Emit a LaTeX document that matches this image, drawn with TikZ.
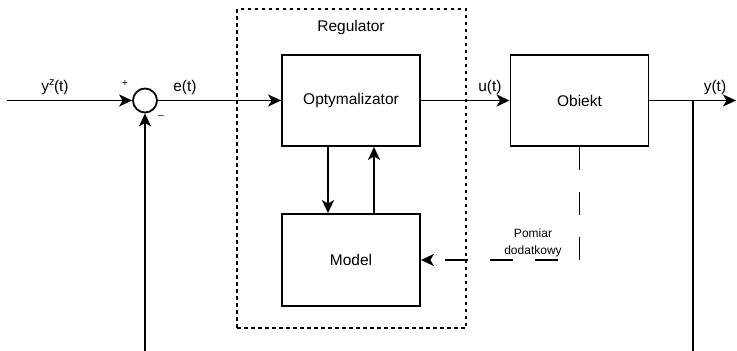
\documentclass[tikz,border=0pt]{standalone}
\usepackage{fontspec}
\setmainfont{Liberation Sans}
\usetikzlibrary{arrows.meta, calc}

\begin{document}
\begin{tikzpicture}[x=1pt, y=-1pt,
  block/.style={draw, line width=1.8pt, minimum width=138pt, minimum height=91pt,
                inner sep=0pt, font=\fontsize{15.5}{17}\selectfont},
  sumnode/.style={draw, circle, line width=1.8pt, minimum size=24pt, inner sep=0pt},
  regbox/.style={draw, line width=1.7pt, dash pattern=on 3.5pt off 3.5pt,
                 minimum width=229pt, minimum height=319pt, inner sep=0pt},
  lbl/.style={font=\fontsize{15.5}{17}\selectfont, inner sep=0pt},
  sgn/.style={font=\fontsize{10}{12}\selectfont, inner sep=0pt},
  wire/.style={line width=1.8pt},
  arr/.style={-{Stealth[length=13pt, width=12pt, inset=3.5pt]}, line width=1.8pt},
  meas/.style={arr, dash pattern=on 23pt off 22pt}]
  \useasboundingbox (0,0) rectangle (737,351);
  % controller frame and blocks
  \node[regbox] (reg) at (351.5,168.5) {};
  \node[lbl] (regtxt) at (351,27) {Regulator};
  \node[block] (opt) at (351,100.5) {Optymalizator};
  \node[block, minimum height=92pt] (model) at (351,260) {Model};
  \node[block] (obj) at (579.5,100.5) {Obiekt};
  \node[sumnode] (sum) at (145,100.5) {};
  % free ends
  \coordinate (in) at (7,100.5);
  \coordinate (fb) at (145,351);
  \coordinate (out) at (736,100.5);
  \coordinate (br) at (693,100.5);
  \coordinate (yb) at (693,351);
  % signals
  \draw[arr] (in) -- (sum.west);
  \draw[arr] (fb) -- (sum.south);
  \draw[arr] (sum.east) -- (opt.west);
  \draw[arr] (opt.east) -- (obj.west);
  \draw[arr] (obj.east) -- (out);
  \draw[wire] (br) -- (yb);
  \draw[arr] (opt.south -| 328,0) -- (model.north -| 328,0);
  \draw[arr] (model.north -| 374,0) -- (opt.south -| 374,0);
  \draw[meas] (obj.south) |- (model.east);
  % labels
  \node[lbl] (yz) at (55,87) {y\raisebox{1pt}{\textsuperscript{z}}\kern-1pt(t)};
  \node[sgn] (plus) at (125,84) {+};
  \node[sgn] (minus) at (161,117) {--};
  \node[lbl] (et) at (185,87) {e(t)};
  \node[lbl] (ut) at (490,87) {u(t)};
  \node[lbl] (yt) at (715,87) {y(t)};
  \node[font=\fontsize{12}{17}\selectfont, align=center] (pom) at (533,243) {Pomiar\\dodatkowy};
\end{tikzpicture}
\end{document}
